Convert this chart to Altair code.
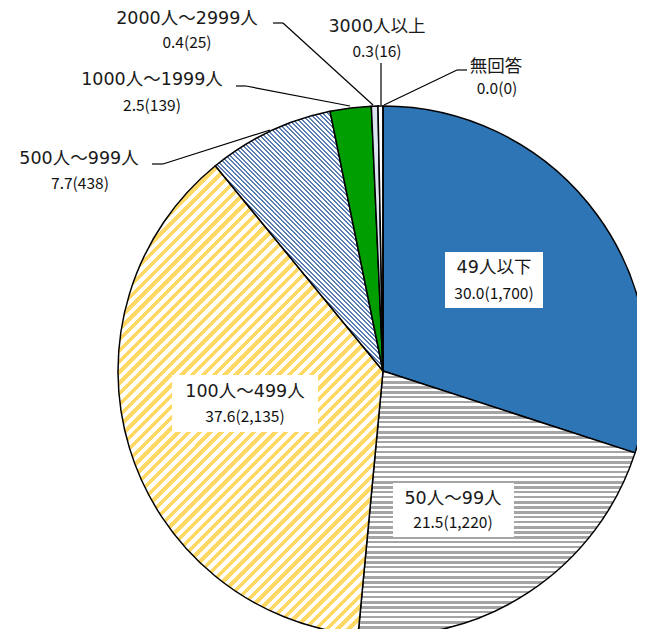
import altair as alt
import pandas as pd

# ---------------- data ----------------
categories = ["49人以下", "50人～99人", "100人～499人", "500人～999人",
              "1000人～1999人", "2000人～2999人", "3000人以上", "無回答"]
percents = [30.0, 21.5, 37.6, 7.7, 2.5, 0.4, 0.3, 0.0]
counts = [1700, 1220, 2135, 438, 139, 25, 16, 0]

# ---------------- layout (page pixels; page margin is 8px) ----------------
M = 8
CX, CY, R = 383 - M, 371 - M, 265
# label centres: (line1 x, line1 y, line2 x, line2 y)
label_pos = [
    (494, 268, 494, 294),
    (453, 499, 453, 523),
    (245, 392, 245, 417),
    (79, 159, 80, 184),
    (152, 80, 152, 106),
    (187, 19, 187, 43),
    (377, 27, 377, 52),
    (496, 67, 497, 89),
]
# white boxes behind inner labels (x1, y1, x2, y2)
boxes = [(445, 252, 543, 308), (393, 483, 514, 537), (172, 375, 318, 432)]
# leader line segments (x1, y1, x2, y2)
leaders = [
    (152, 164, 163, 164), (163, 164, 270, 130),
    (236, 86, 246, 86), (246, 86, 350, 106),
    (273, 23, 283, 23), (283, 23, 373, 105),
    (381, 63, 381, 105),
    (467, 70, 457, 70), (457, 70, 384, 105),
]

FONT1 = 'DejaVu Sans, "Noto Sans CJK JP", sans-serif'
FONT2 = '"Noto Sans CJK JP", sans-serif'


def stripe_gradient(W, H, a, b, period, c1, c2, frac=0.5):
    """Linear gradient that draws stripes perpendicular to pixel direction (a, b)."""
    import math
    norm = math.hypot(a, b)
    a, b = a / norm, b / norm
    denom = a * a * W * W + b * b * H * H
    s = (abs(a) * W + abs(b) * H) / denom
    vx, vy = a * W * s, b * H * s
    x1 = 0.0 if a >= 0 else 1.0
    y1 = 0.0 if b >= 0 else 1.0
    L = abs(a) * W + abs(b) * H
    n = max(1, int(round(L / period)))
    stops = []
    for k in range(n):
        o0 = k / n
        o1 = (k + frac) / n
        o2 = (k + 1) / n
        stops += [{"offset": round(o0, 5), "color": c1},
                  {"offset": round(o1, 5), "color": c1},
                  {"offset": round(o1, 5), "color": c2},
                  {"offset": round(min(o2, 1.0), 5), "color": c2}]
    return {"gradient": "linear", "x1": x1, "y1": y1,
            "x2": x1 + vx, "y2": y1 + vy, "stops": stops}


fills = [
    "#2E75B6",
    stripe_gradient(265, 265, 0, 1, 5.0, "#A5A5A5", "#FFFFFF", 0.5),
    stripe_gradient(265, 469, 1, 1, 7.6, "#FFD966", "#FFFFFF", 0.5),
    stripe_gradient(168, 260, 1, -1, 3.2, "#5B7DB6", "#FFFFFF", 0.45),
    "#009E00",
    "#DCE4F1",
    "#FFFFFF",
    "#FFFFFF",
]

df = pd.DataFrame({
    "order": list(range(len(categories))),
    "category": categories,
    "pct": percents,
    "count": counts,
})

base = (
    alt.Chart(df)
    .transform_window(cum="sum(pct)", sort=[alt.SortField("order")], frame=[None, 0])
    .transform_calculate(start="datum.cum - datum.pct")
)

layers = []
for i in range(len(categories)):
    layers.append(
        base.transform_filter(alt.datum.order == i)
        .mark_arc(radius=R, fill=fills[i], stroke="#000000", strokeWidth=1.5)
        .encode(
            theta=alt.Theta("start:Q", scale=alt.Scale(domain=[0, 100])),
            theta2="cum:Q",
            x=alt.value(CX),
            y=alt.value(CY),
        )
    )

lead_df = pd.DataFrame(
    [{"x": a - M, "y": b - M, "x2": c - M, "y2": d - M} for a, b, c, d in leaders]
)
layers.append(
    alt.Chart(lead_df)
    .mark_rule(color="#000000", strokeWidth=1.2)
    .encode(
        x=alt.X("x:Q", scale=None, axis=None),
        y=alt.Y("y:Q", scale=None, axis=None),
        x2="x2:Q",
        y2="y2:Q",
    )
)

box_df = pd.DataFrame(
    [{"x": a - M, "y": b - M, "x2": c - M, "y2": d - M} for a, b, c, d in boxes]
)
layers.append(
    alt.Chart(box_df)
    .mark_rect(fill="#FFFFFF")
    .encode(
        x=alt.X("x:Q", scale=None, axis=None),
        y=alt.Y("y:Q", scale=None, axis=None),
        x2="x2:Q",
        y2="y2:Q",
    )
)

rows1, rows2 = [], []
for i in range(len(categories)):
    x1, y1, x2, y2 = label_pos[i]
    rows1.append({"x": x1 - M, "y": y1 - M, "t": categories[i]})
    rows2.append({"x": x2 - M, "y": y2 - M, "t": f"{percents[i]:.1f}({counts[i]:,})"})

layers.append(
    alt.Chart(pd.DataFrame(rows1))
    .mark_text(font=FONT1, fontSize=17.5, color="#1a1a1a",
               align="center", baseline="middle")
    .encode(x=alt.X("x:Q", scale=None, axis=None),
            y=alt.Y("y:Q", scale=None, axis=None), text="t:N")
)
layers.append(
    alt.Chart(pd.DataFrame(rows2))
    .mark_text(font=FONT2, fontSize=15.5, color="#111111",
               align="center", baseline="middle")
    .encode(x=alt.X("x:Q", scale=None, axis=None),
            y=alt.Y("y:Q", scale=None, axis=None), text="t:N")
)

chart = (
    alt.layer(*layers)
    .properties(width=629, height=621, autosize=alt.AutoSizeParams(type="none"), padding=0)
    .configure_view(strokeWidth=0)
)

chart.save("out.html", embed_options={"renderer": "svg", "actions": False})
